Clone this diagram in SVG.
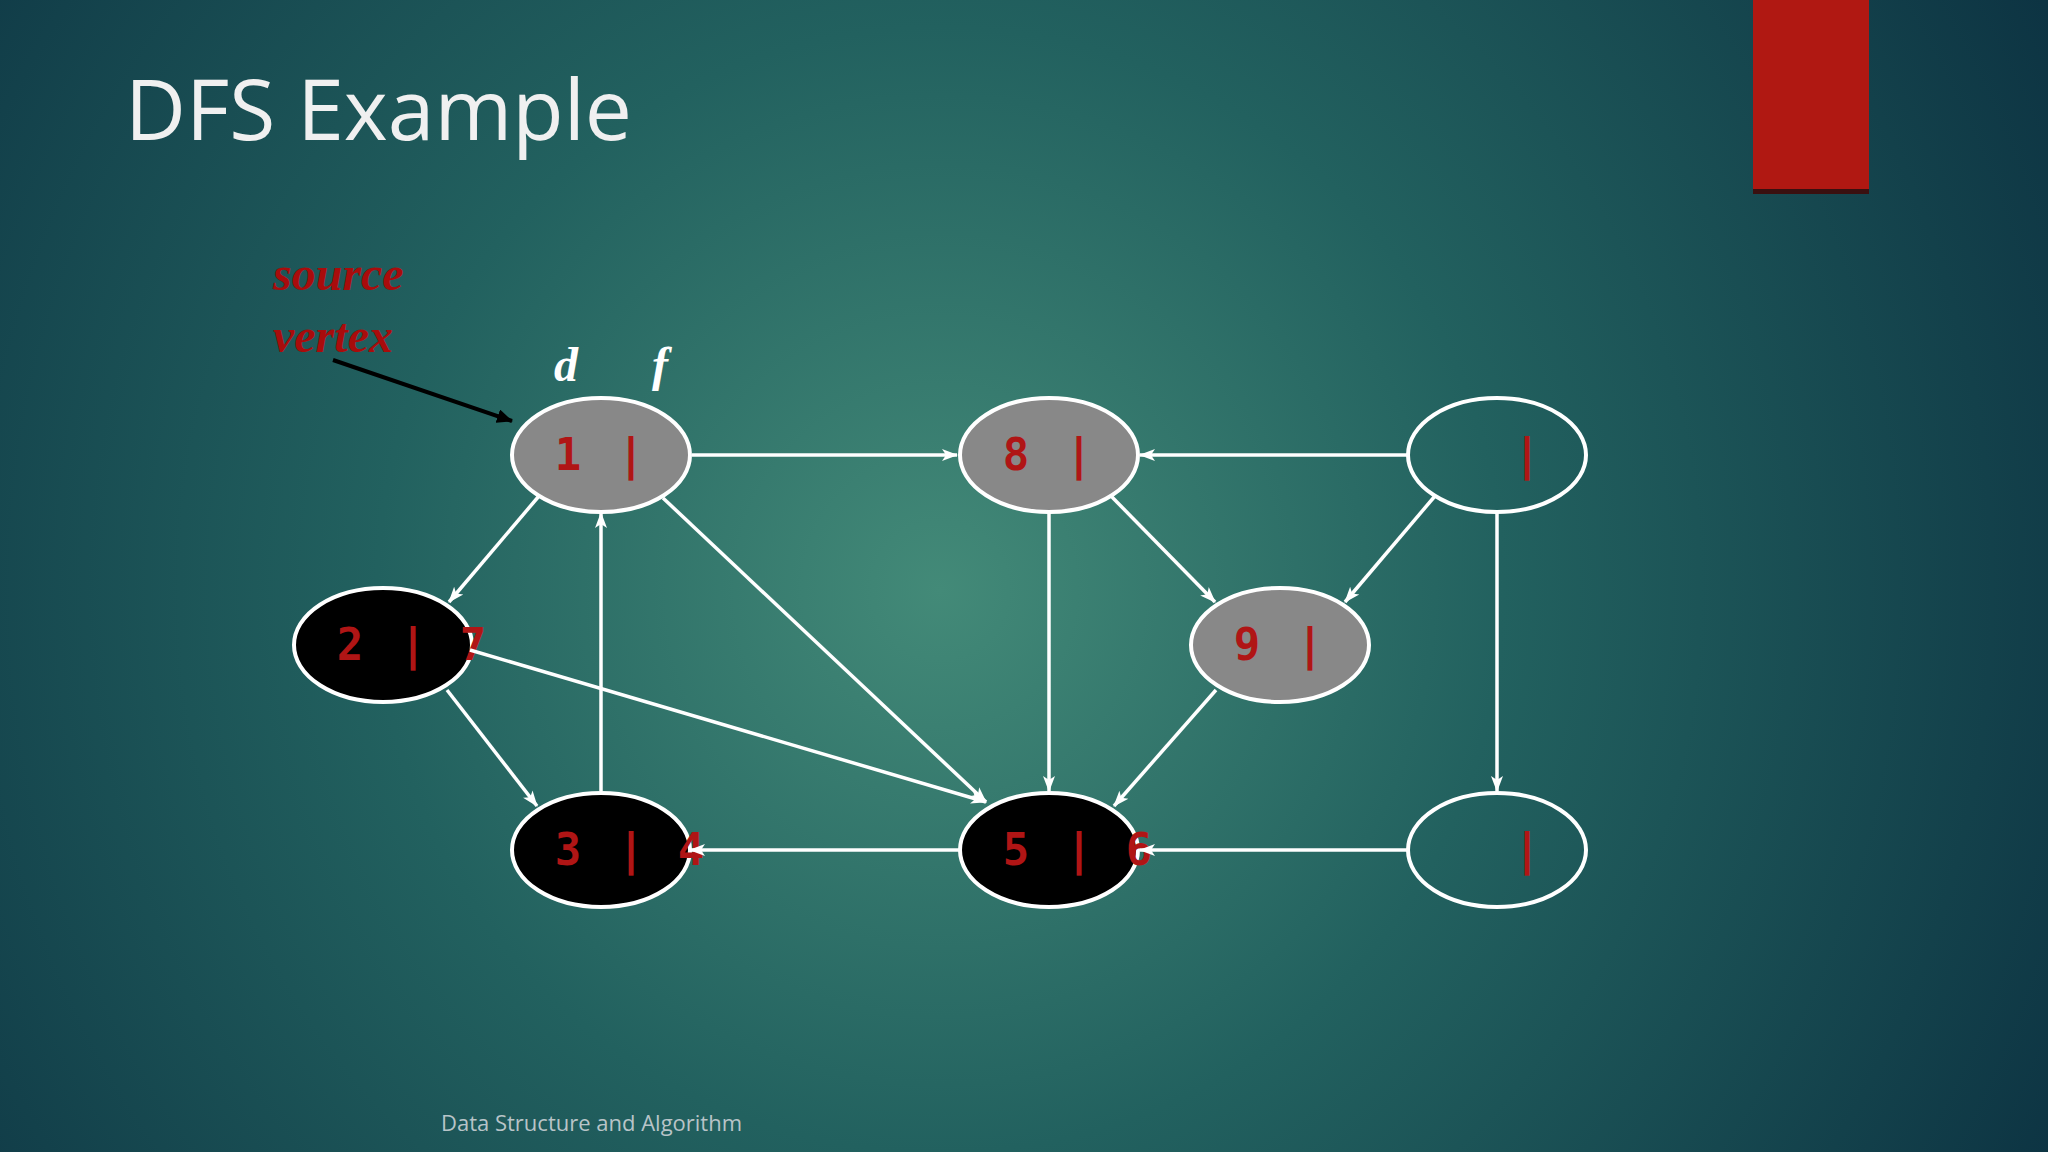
<svg xmlns="http://www.w3.org/2000/svg" width="2048" height="1152" viewBox="0 0 2048 1152">
<defs>
<radialGradient id="bg" cx="940" cy="590" r="1250" gradientUnits="userSpaceOnUse">
<stop offset="0" stop-color="#438a78"/><stop offset="0.45" stop-color="#22615f"/><stop offset="1" stop-color="#0d3443"/>
</radialGradient>
<marker id="aw" markerWidth="16" markerHeight="14" refX="15" refY="7" orient="auto" markerUnits="userSpaceOnUse" viewBox="0 0 16 14"><path d="M0,1 L16,7 L0,13 L4,7 z" fill="#fff"/></marker>
<marker id="ab" markerWidth="16" markerHeight="14" refX="15" refY="7" orient="auto" markerUnits="userSpaceOnUse" viewBox="0 0 16 14"><path d="M0,0 L16,7 L0,14 z" fill="#000"/></marker>
<style>
.e{stroke:#fff;stroke-width:3.5;fill:none;marker-end:url(#aw)}
.n{stroke:#fff;stroke-width:4}
.g{fill:#888}.k{fill:#000}.w{fill:none}
.t{font-family:"DejaVu Sans Mono","Liberation Mono",monospace;font-weight:bold;font-size:44px;fill:#b01515;text-anchor:middle}
.lab{font-family:"Liberation Serif",serif;font-weight:bold;font-style:italic;font-size:48px}
</style>
</defs>
<rect width="2048" height="1152" fill="url(#bg)"/>
<rect x="1753" y="0" width="116" height="192" fill="#b01812"/>
<rect x="1753" y="189" width="116" height="5" fill="#3a1010"/>
<text x="125" y="140" font-family="Open Sans,Noto Sans,sans-serif" font-size="84" fill="#f0f0f0">DFS Example</text>
<text x="273" y="290" class="lab" fill="#a80c0c">source</text>
<text x="273" y="352" class="lab" fill="#a80c0c">vertex</text>
<text x="554" y="381" class="lab" fill="#fff">d</text>
<text x="652" y="381" class="lab" fill="#fff">f</text>
<text x="441" y="1131" font-family="Open Sans,Noto Sans,sans-serif" font-size="22" fill="#b8c4c8">Data Structure and Algorithm</text>
<g id="n1"><ellipse class="n g" cx="601" cy="455" rx="89" ry="57"/><text class="t" x="568" y="470">1</text><text class="t" x="631" y="470">|</text></g>
<g id="n8"><ellipse class="n g" cx="1049" cy="455" rx="89" ry="57"/><text class="t" x="1016" y="470">8</text><text class="t" x="1079" y="470">|</text></g>
<g id="nc"><ellipse class="n w" cx="1497" cy="455" rx="89" ry="57"/><text class="t" x="1527" y="470">|</text></g>
<g id="n2"><ellipse class="n k" cx="383" cy="645" rx="89" ry="57"/><text class="t" x="350" y="660">2</text><text class="t" x="413" y="660">|</text><text class="t" x="473" y="660">7</text></g>
<g id="n9"><ellipse class="n g" cx="1280" cy="645" rx="89" ry="57"/><text class="t" x="1247" y="660">9</text><text class="t" x="1310" y="660">|</text></g>
<g id="n3"><ellipse class="n k" cx="601" cy="850" rx="89" ry="57"/><text class="t" x="568" y="865">3</text><text class="t" x="631" y="865">|</text><text class="t" x="691" y="865">4</text></g>
<g id="n5"><ellipse class="n k" cx="1049" cy="850" rx="89" ry="57"/><text class="t" x="1016" y="865">5</text><text class="t" x="1079" y="865">|</text><text class="t" x="1139" y="865">6</text></g>
<g id="nh"><ellipse class="n w" cx="1497" cy="850" rx="89" ry="57"/><text class="t" x="1527" y="865">|</text></g>
<g id="edges">
<line x1="333" y1="360" x2="512" y2="421" stroke="#000" stroke-width="4" marker-end="url(#ab)"/>
<line class="e" x1="692" y1="455" x2="957" y2="455"/>
<line class="e" x1="1407" y1="455" x2="1140" y2="455"/>
<line class="e" x1="539" y1="496" x2="449" y2="602"/>
<line class="e" x1="1111" y1="496" x2="1215" y2="602"/>
<line class="e" x1="1435" y1="496" x2="1345" y2="602"/>
<line class="e" x1="1049" y1="513" x2="1049" y2="791"/>
<line class="e" x1="1497" y1="513" x2="1497" y2="791"/>
<line class="e" x1="447" y1="690" x2="537" y2="806"/>
<line class="e" x1="470" y1="650" x2="986" y2="802"/>
<line class="e" x1="663" y1="498" x2="986" y2="802"/>
<line class="e" x1="1216" y1="690" x2="1114" y2="806"/>
<line class="e" x1="601" y1="791" x2="601" y2="513"/>
<line class="e" x1="960" y1="850" x2="690" y2="850"/>
<line class="e" x1="1407" y1="850" x2="1140" y2="850"/>
</g>
</svg>
